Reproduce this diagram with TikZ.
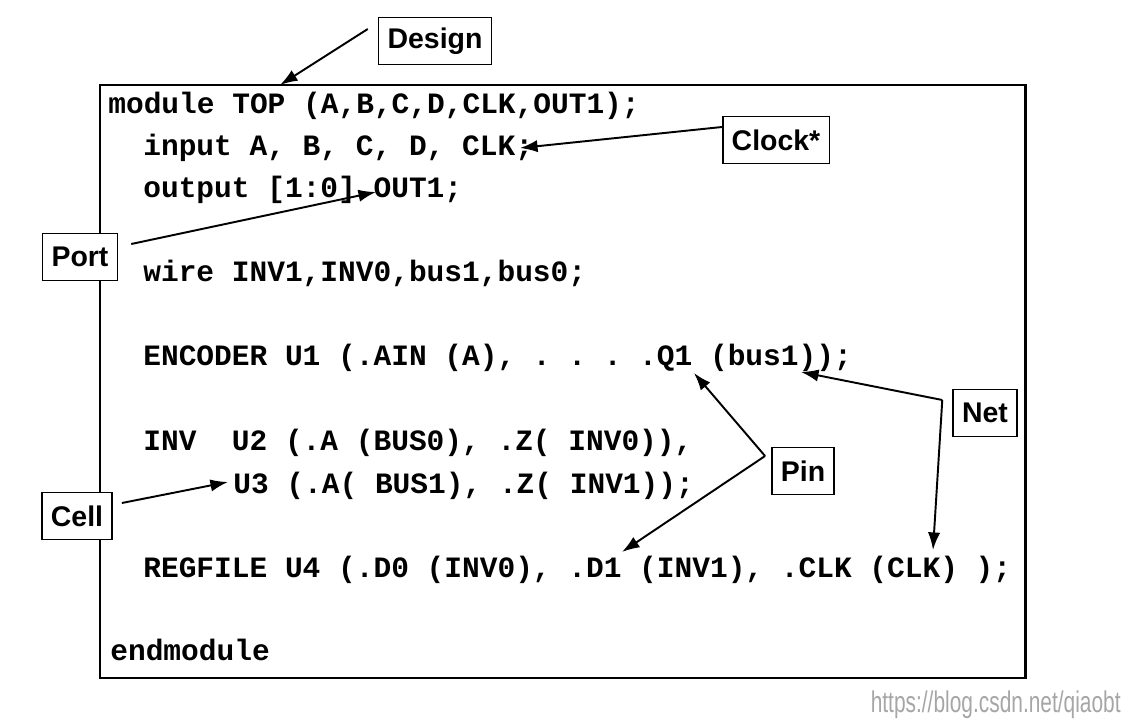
\documentclass[tikz,border=0pt]{standalone}
\usepackage{fontspec}
\usepackage{graphicx}
\setmainfont{Liberation Sans}
\setmonofont{Liberation Mono}
\usetikzlibrary{arrows.meta,positioning,calc}

\begin{document}
\begin{tikzpicture}[x=0.02cm, y=-0.02cm,
  code/.style={anchor=base west, inner sep=0pt,
               font=\ttfamily\bfseries\fontsize{16.8}{18}\selectfont},
  tag/.style={rectangle, draw, fill=white, line width=0.9pt, inner xsep=0.18cm, inner ysep=0pt,
              minimum height=0.94cm, font=\bfseries\fontsize{16.2}{18}\selectfont},
  arr/.style={-{Latex[length=10pt,width=7pt]}, line width=1.1pt}
]
\useasboundingbox (0,0) rectangle (1130,726);

% Module frame
\draw[line width=1.7pt] (100,85) rectangle (1025,678);

% Verilog source lines
\node[code] (lmodule) at (108,114) {module TOP (A,B,C,D,CLK,OUT1);};
\node[code] (linput)  at (143,156) {input A, B, C, D, CLK;};
\node[code] (loutput) at (143,198) {output [1:0] OUT1;};
\node[code] (lwire)   at (143,282) {wire INV1,INV0,bus1,bus0;};
\node[code] (lenc)    at (143,366) {ENCODER U1 (.AIN (A), . . . .Q1 (bus1));};
\node[code] (linv)    at (143,450) {INV\ \ U2 (.A (BUS0), .Z( INV0)),};
\node[code] (lu3)     at (233,493) {U3 (.A( BUS1), .Z( INV1));};
\node[code] (lreg)    at (143,577) {REGFILE U4 (.D0 (INV0), .D1 (INV1), .CLK (CLK) );};
\node[code] (lend)    at (110,660) {endmodule};

% Tag boxes
\node[tag] (design) at (435,41)  {Design};
\node[tag] (clock)  at (776,140) {Clock*};
\node[tag] (port)   at (80,257)  {Port};
\node[tag] (cell)   at (77,516)  {Cell};
\node[tag] (pin)    at (803,471) {Pin};
\node[tag] (net)    at (985,413) {Net};

% Arrow tips
\coordinate (designtip) at (280,85);
\coordinate (clocktip)  at (520,148);
\coordinate (porttip)   at (376,192);
\coordinate (celltip)   at (228,482);
\coordinate (pintipa)   at (694,373);
\coordinate (pintipb)   at (622,552);
\coordinate (nettipa)   at (801,372);
\coordinate (nettipb)   at (933,550);

% Fork points
\coordinate (pinfork) at ([xshift=-0.12cm,yshift=0.3cm]pin.west);
\coordinate (netfork) at ([xshift=-0.2cm,yshift=0.26cm]net.west);

% Arrows
\draw[arr] ([xshift=-0.2cm,yshift=0.24cm]design.west) -- (designtip);
\draw[arr] ([yshift=0.26cm]clock.west) -- (clocktip);
\draw[arr] ([xshift=0.26cm,yshift=0.26cm]port.east) -- (porttip);
\draw[arr] ([xshift=0.18cm,yshift=0.26cm]cell.east) -- (celltip);
\draw[arr] (pinfork) -- (pintipa);
\draw[arr] (pinfork) -- (pintipb);
\draw[arr] (netfork) -- (nettipa);
\draw[arr] (netfork) -- (nettipb);

% Watermark
\node[anchor=east, inner sep=0pt, text=black!35, font=\fontsize{17}{18}\selectfont]
  (mark) at (1121,705) {\scalebox{0.7}[1]{https://blog.csdn.net/qiaobt}};
\end{tikzpicture}
\end{document}
